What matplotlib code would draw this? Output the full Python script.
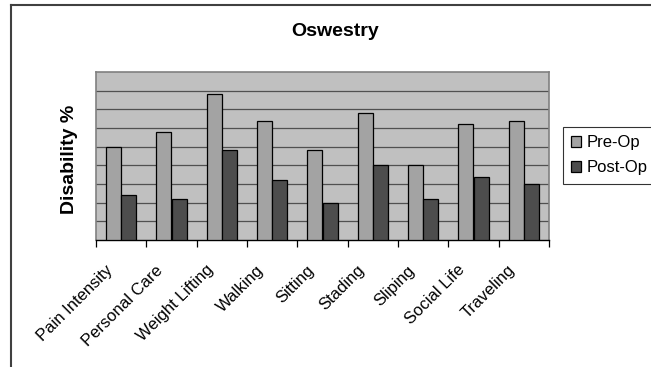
import numpy as np
import matplotlib.pyplot as plt
import matplotlib.transforms as mtransforms
from matplotlib.lines import Line2D

plt.rcParams['font.family'] = ['Liberation Sans', 'DejaVu Sans']

categories = ['Pain Intensity', 'Personal Care', 'Weight Lifting', 'Walking', 'Sitting',
              'Stading', 'Sliping', 'Social Life', 'Traveling']
pre_op = [50, 58, 78, 64, 48, 68, 40, 62, 64]
post_op = [24, 22, 48, 32, 20, 40, 22, 34, 30]

W, H = 651, 367
fig = plt.figure(figsize=(W / 100, H / 100), dpi=100)
fig.patch.set_facecolor('white')

# plot area in pixel coordinates (left, top, right, bottom)
px_l, px_t, px_r, px_b = 96, 72, 549, 240
ax = fig.add_axes([px_l / W, 1 - px_b / H, (px_r - px_l) / W, (px_b - px_t) / H])
ax.set_facecolor('#c0c0c0')

x = np.arange(len(categories))
bw = 0.30
ax.bar(x - bw / 2, pre_op, bw, color='#a3a3a3', edgecolor='black', linewidth=0.9,
       label='Pre-Op', zorder=3)
ax.bar(x + bw / 2, post_op, bw, color='#4d4d4d', edgecolor='black', linewidth=0.9,
       label='Post-Op', zorder=3)

ax.set_xlim(-0.5, len(categories) - 0.5)
ax.set_ylim(0, 90)
ax.set_yticks(np.arange(10, 90, 10))
ax.yaxis.grid(True, color='#505050', linewidth=0.9, zorder=1)
ax.tick_params(axis='y', length=0, labelleft=False)

# category ticks sit between groups, labels under each group
ax.set_xticks(x)
ax.set_xticklabels(categories, rotation=45, ha='right', va='center',
                   rotation_mode='anchor', fontsize=12)
ax.set_xticks(np.arange(-0.5, len(categories)), minor=True)
ax.tick_params(axis='x', which='major', length=0, pad=20)
ax.tick_params(axis='x', which='minor', length=5, width=0.9, color='black', direction='out')
shift = mtransforms.ScaledTranslation(-11 / 100, 0, fig.dpi_scale_trans)
for lbl in ax.get_xticklabels():
    lbl.set_transform(lbl.get_transform() + shift)

for side in ['left', 'top', 'right']:
    ax.spines[side].set_color('#808080')
    ax.spines[side].set_linewidth(1.2)
ax.spines['bottom'].set_color('black')
ax.spines['bottom'].set_linewidth(1.0)

fig.text(70 / W, 1 - 159 / H, 'Disability %', rotation=90, ha='center', va='center',
         fontsize=14, fontweight='bold')
fig.text(335 / W, 1 - 32 / H, 'Oswestry', ha='center', va='center',
         fontsize=14, fontweight='bold')

leg = ax.legend(loc='upper left', bbox_to_anchor=(563 / W, 1 - 127 / H),
                bbox_transform=fig.transFigure, fontsize=12, frameon=True,
                fancybox=False, handlelength=0.6, handleheight=0.6,
                handletextpad=0.3, borderpad=0.5, labelspacing=0.6,
                borderaxespad=0)
leg.get_frame().set_edgecolor('black')
leg.get_frame().set_linewidth(0.8)

# chart area border (top and left edges)
fig.add_artist(Line2D([11 / W, 11 / W], [0, 1 - 5 / H], color='#404040', linewidth=1.5,
                      transform=fig.transFigure))
fig.add_artist(Line2D([11 / W, 1], [1 - 5 / H, 1 - 5 / H], color='#404040', linewidth=1.5,
                      transform=fig.transFigure))

fig.savefig('out.png', dpi=100)
